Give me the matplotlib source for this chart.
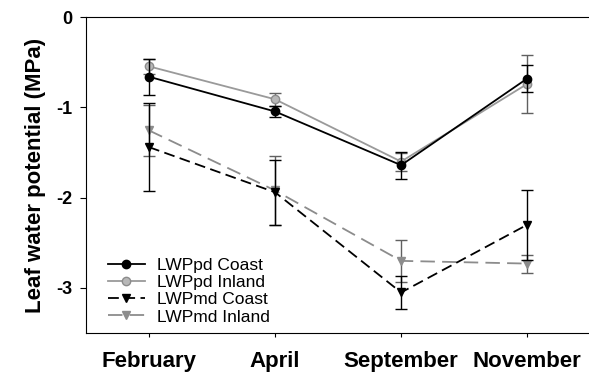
import matplotlib
matplotlib.use('Agg')
import matplotlib.pyplot as plt
from matplotlib.lines import Line2D
import numpy as np

plt.rcParams['font.family'] = ['Liberation Sans', 'DejaVu Sans']

months = ['February', 'April', 'September', 'November']

# predawn (pd) and midday (md) leaf water potential, MPa
pd_coast = [-0.66, -1.045, -1.64, -0.68]
pd_coast_err = [0.20, 0.065, 0.15, 0.15]
pd_inland = [-0.545, -0.91, -1.60, -0.74]
pd_inland_err = [0.08, 0.07, 0.10, 0.32]
md_coast = [-1.44, -1.94, -3.05, -2.30]
md_coast_err = [0.49, 0.36, 0.18, 0.39]
md_inland = [-1.255, -1.92, -2.70, -2.73]
md_inland_err = [0.28, 0.38, 0.23, 0.10]

x = np.arange(1, len(months) + 1)

fig = plt.figure(figsize=(5.89, 3.73), dpi=100)
ax = fig.add_axes([0.146, 0.107, 0.856, 0.847])

styles = [
    # label, y, err, line colour, err colour, marker, face, edge, dashes
    ('LWPpd Coast', pd_coast, pd_coast_err, 'black', 'black', 'o', 'black', 'black', '-'),
    ('LWPpd Inland', pd_inland, pd_inland_err, '#9a9a9a', '#606060', 'o', '#b8b8b8', '#8c8c8c', '-'),
    ('LWPmd Coast', md_coast, md_coast_err, 'black', 'black', 'v', 'black', 'black', (0, (6, 3))),
    ('LWPmd Inland', md_inland, md_inland_err, '#8c8c8c', '#606060', 'v', '#8c8c8c', '#8c8c8c', (0, (8, 4))),
]
zorders = [4, 3, 4, 3]

handles = []
for (lab, y, err, lc, ec, mk, fc, edc, ls), z in zip(styles, zorders):
    ax.errorbar(x, y, yerr=err, color=lc, ecolor=ec, marker=mk, markersize=6,
                mfc=fc, mec=edc, linestyle=ls, linewidth=1.3, capsize=4,
                elinewidth=1, zorder=z)
    handles.append(Line2D([], [], color=lc, marker=mk, markersize=6, mfc=fc,
                          mec=edc, linestyle=ls, linewidth=1.3, label=lab))

ax.set_xlim(0.5, 4.5)
ax.set_ylim(-3.5, 0)
ax.set_yticks([0, -1, -2, -3])
ax.set_yticklabels(['0', '-1', '-2', '-3'], fontsize=13, fontweight='bold')
ax.set_xticks(x)
ax.set_xticklabels(months, fontsize=16, fontweight='bold')
ax.tick_params(axis='y', direction='out', length=4, pad=6)
ax.tick_params(axis='x', direction='out', length=3, pad=10)
ax.spines['right'].set_visible(False)
ax.set_ylabel('Leaf water potential (MPa)', fontsize=16, fontweight='bold', labelpad=7)

ax.legend(handles=handles, loc='lower left', frameon=False, fontsize=12.5,
          handlelength=2.1, handletextpad=0.7, labelspacing=0.12,
          bbox_to_anchor=(0.03, 0.005), borderaxespad=0)

fig.savefig('out.png', dpi=100)
